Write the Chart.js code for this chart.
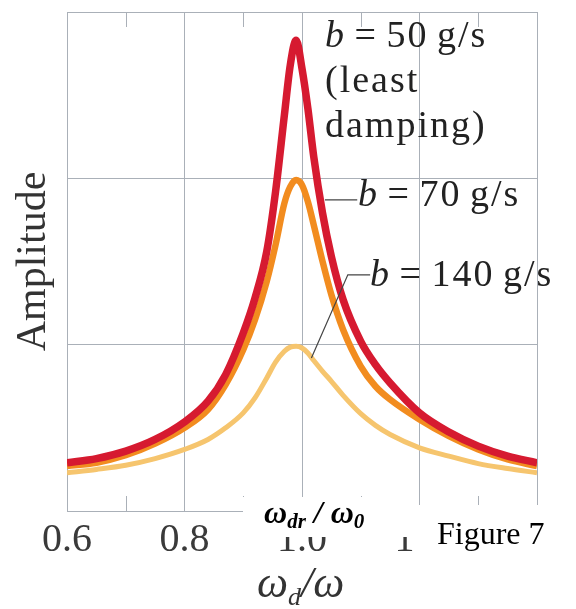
<!DOCTYPE html>
<html>
<head>
<meta charset="utf-8">
<script src="https://cdn.jsdelivr.net/npm/chart.js@4/dist/chart.umd.min.js"></script>
<style>
  body { margin: 0; background: #fff; }
  #wrap { position: relative; width: 576px; height: 609px; overflow: hidden; }
  #chart { position: absolute; left: 0; top: 0; }
  .lbl { position: absolute; font-family: 'Liberation Serif', 'Times New Roman', serif; color: #222;
         font-size: 38px; line-height: 45px; letter-spacing: 2px; word-spacing: -3px; white-space: nowrap; }
  .box { position: absolute; background: #fff; }
  #fig { position: absolute; font-family: 'Liberation Serif', 'Times New Roman', serif; font-size: 32px; color: #000; white-space: nowrap; line-height: 32px; }
  #wdr { position: absolute; font-family: 'Liberation Serif', 'Times New Roman', serif; font-size: 32px; font-weight: bold; font-style: italic; color: #000; white-space: nowrap; line-height: 32px; }
  #wdr sub { font-size: 21px; vertical-align: -5px; }
  #xtitle { position: absolute; font-family: 'Liberation Serif', 'Times New Roman', serif; font-size: 44px; font-style: italic; color: #333; white-space: nowrap; line-height: 44px; }
  #xtitle sub { font-size: 26px; vertical-align: -8px; }
</style>
</head>
<body>
<div id="wrap">
  <canvas id="chart" width="576" height="609"></canvas>
  <div class="lbl" style="left:325px; top:12px;"><i>b</i> = 50 g/s<br>(least<br>damping)</div>
  <div class="lbl" style="left:358px; top:171px;"><i>b</i> = 70 g/s</div>
  <div class="lbl" style="left:370px; top:251px;"><i>b</i> = 140 g/s</div>
  <div class="box" style="left:243px; top:497px; width:175px; height:40px;"></div>
  <div class="box" style="left:416px; top:505px; width:160px; height:58px;"></div>
  <div id="wdr" style="left:264px; top:496px;">ω<sub>dr</sub> / ω<sub>0</sub></div>
  <div id="fig" style="left:437px; top:517px;">Figure 7</div>
  <div id="xtitle" style="left:257px; top:561px;">ω<sub>d</sub>/ω</div>
</div>
<script>
// driving frequency ratio (x) and amplitude (arbitrary units)
const omega   = [0.60, 0.65, 0.70, 0.75, 0.80, 0.84, 0.87, 0.90, 0.92, 0.94, 0.955, 0.97, 0.98, 0.99, 1.00, 1.01, 1.02, 1.035, 1.05, 1.07, 1.10, 1.125, 1.15, 1.20, 1.25, 1.30, 1.35, 1.40];
const ampB50  = [0.29, 0.315, 0.36, 0.43, 0.535, 0.66, 0.82, 1.07, 1.28, 1.56, 1.92, 2.38, 2.68, 2.83, 2.66, 2.42, 2.13, 1.79, 1.53, 1.27, 1.02, 0.88, 0.77, 0.59, 0.475, 0.39, 0.33, 0.29];
const ampB70  = [0.27, 0.29, 0.335, 0.405, 0.50, 0.61, 0.76, 0.97, 1.15, 1.38, 1.60, 1.85, 1.95, 1.99, 1.96, 1.86, 1.72, 1.50, 1.30, 1.09, 0.87, 0.75, 0.67, 0.55, 0.45, 0.37, 0.31, 0.27];
const ampB140 = [0.23, 0.25, 0.275, 0.315, 0.37, 0.43, 0.50, 0.59, 0.68, 0.80, 0.895, 0.96, 0.985, 0.99, 0.98, 0.95, 0.905, 0.84, 0.78, 0.695, 0.585, 0.515, 0.46, 0.38, 0.33, 0.285, 0.255, 0.23];

const xTicks = [0.6, 0.8, 1.0, 1.2, 1.4];
const xMinorTicks = [0.7, 0.9, 1.1, 1.3];
const yTicks = [0, 1, 2, 3];

// leader lines from labels to curves, in data units [omega, amplitude]
const leader70  = [[1.039, 1.87], [1.094, 1.87]];
const leader140 = [[1.016, 0.92], [1.078, 1.42], [1.116, 1.42]];

const gridGrey = '#aab0b8';

function toPoints(ys) {
    return omega.map((x, i) => ({ x: x, y: ys[i] }));
}

const minorTickPlugin = {
    id: 'minorTicks',
    beforeDatasetsDraw(chart) {
        const ctx = chart.ctx;
        const xs = chart.scales.x;
        const area = chart.chartArea;
        ctx.save();
        ctx.strokeStyle = gridGrey;
        ctx.lineWidth = 1;
        xMinorTicks.forEach(v => {
            const px = Math.round(xs.getPixelForValue(v)) + 0.5;
            ctx.beginPath();
            ctx.moveTo(px, area.top);
            ctx.lineTo(px, area.top + 15);
            ctx.moveTo(px, area.bottom);
            ctx.lineTo(px, area.bottom - 15);
            ctx.stroke();
        });
        ctx.restore();
    }
};

const leaderPlugin = {
    id: 'leaders',
    afterDatasetsDraw(chart) {
        const ctx = chart.ctx;
        const xs = chart.scales.x;
        const ys = chart.scales.y;
        ctx.save();
        ctx.strokeStyle = '#444';
        ctx.lineWidth = 1.2;
        [leader70, leader140].forEach(line => {
            ctx.beginPath();
            line.forEach((p, i) => {
                const px = xs.getPixelForValue(p[0]);
                const py = ys.getPixelForValue(p[1]);
                if (i === 0) ctx.moveTo(px, py); else ctx.lineTo(px, py);
            });
            ctx.stroke();
        });
        ctx.restore();
    }
};

new Chart(document.getElementById('chart').getContext('2d'), {
    type: 'line',
    data: {
        datasets: [
            {
                label: 'b = 50 g/s',
                data: toPoints(ampB50),
                borderColor: '#d61a30',
                borderWidth: 7.5,
                pointRadius: 0,
                cubicInterpolationMode: 'monotone',
                fill: false
            },
            {
                label: 'b = 70 g/s',
                data: toPoints(ampB70),
                borderColor: '#f28c1f',
                borderWidth: 6.5,
                pointRadius: 0,
                cubicInterpolationMode: 'monotone',
                fill: false
            },
            {
                label: 'b = 140 g/s',
                data: toPoints(ampB140),
                borderColor: '#f6c56e',
                borderWidth: 5,
                pointRadius: 0,
                cubicInterpolationMode: 'monotone',
                fill: false
            }
        ]
    },
    options: {
        responsive: false,
        animation: false,
        devicePixelRatio: 1,
        layout: { padding: { top: 12, right: 39, left: 0, bottom: 0 } },
        plugins: {
            legend: { display: false },
            tooltip: { enabled: false }
        },
        scales: {
            x: {
                type: 'linear',
                min: 0.6,
                max: 1.4,
                afterBuildTicks: axis => { axis.ticks = xTicks.map(v => ({ value: v })); },
                afterFit: axis => { axis.height = 98; },
                grid: { color: gridGrey, drawTicks: false, lineWidth: 1 },
                border: { color: gridGrey },
                ticks: {
                    padding: 5,
                    color: '#3a3a3a',
                    font: { family: "'Liberation Serif', 'Times New Roman', serif", size: 40 },
                    callback: v => Number(v).toFixed(1)
                }
            },
            y: {
                min: 0,
                max: 3,
                afterBuildTicks: axis => { axis.ticks = yTicks.map(v => ({ value: v })); },
                afterFit: axis => { axis.width = 67; },
                grid: { color: gridGrey, drawTicks: false, lineWidth: 1 },
                border: { color: gridGrey },
                ticks: { display: false },
                title: {
                    display: true,
                    text: 'Amplitude',
                    color: '#333',
                    padding: { top: 9, bottom: 4 },
                    font: { family: "'Liberation Serif', 'Times New Roman', serif", size: 42 }
                }
            }
        }
    },
    plugins: [minorTickPlugin, leaderPlugin]
});
</script>
</body>
</html>
